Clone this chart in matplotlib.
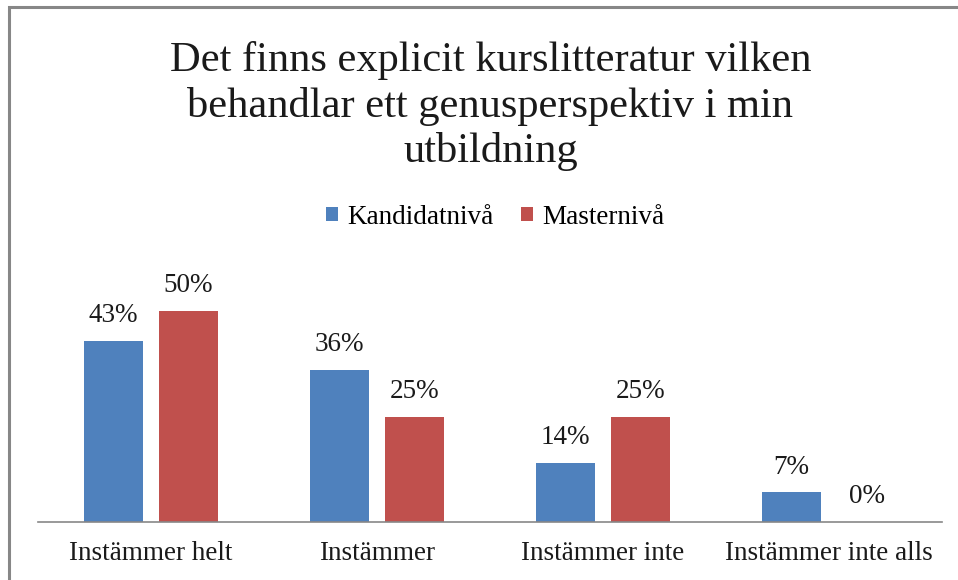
import matplotlib.pyplot as plt
import numpy as np
from matplotlib.patches import Rectangle

categories = ['Instämmer helt', 'Instämmer', 'Instämmer inte', 'Instämmer inte alls']
kandidat = [43, 36, 14, 7]
master = [50, 25, 25, 0]
series_names = ['Kandidatnivå', 'Masternivå']
title = 'Det finns explicit kurslitteratur vilken\nbehandlar ett genusperspektiv i min\nutbildning'

plt.rcParams['font.family'] = ['Liberation Serif', 'DejaVu Serif']

fig = plt.figure(figsize=(9.58, 5.8), dpi=100)
fig.patch.set_facecolor('white')

# chart border (right and bottom edges fall outside the image)
fig.patches.append(Rectangle((8.5 / 958, -0.05), 1.2, 1 - 6.5 / 580 + 0.05,
                             transform=fig.transFigure, fill=False,
                             edgecolor='#878787', linewidth=2.2))

ax = fig.add_axes([38 / 958, 58 / 580, 904 / 958, 253.2 / 580])
x = np.arange(len(categories))
w = 0.265
off = 0.166
b1 = ax.bar(x - off, kandidat, w, color='#4F81BD', label=series_names[0])
b2 = ax.bar(x + off, master, w, color='#C0504D', label=series_names[1])

for bars, vals in [(b1, kandidat), (b2, master)]:
    for r, v in zip(bars, vals):
        ax.text(r.get_x() + r.get_width() / 2, v + 3.0, '%d%%' % v,
                ha='center', va='bottom', fontsize=19.5, color='#1a1a1a')

ax.set_xlim(-0.5, 3.5)
ax.set_ylim(0, 60)
ax.set_xticks(x)
ax.set_xticklabels(categories, fontsize=19.5, color='#1a1a1a')
ax.tick_params(axis='x', length=0, pad=14)
ax.set_yticks([])
for s in ['top', 'right', 'left']:
    ax.spines[s].set_visible(False)
ax.spines['bottom'].set_color('#878787')
ax.spines['bottom'].set_linewidth(1.2)

fig.text(0.512, 1 - 106 / 580, title, ha='center', va='center',
         fontsize=30.6, linespacing=1.22, color='#1a1a1a')

fig.legend(handles=[b1, b2], loc='center', bbox_to_anchor=(495 / 958, 1 - 217 / 580),
           ncol=2, frameon=False, fontsize=19.5, handlelength=0.45, handleheight=0.45,
           handletextpad=0.35, columnspacing=1.0)

fig.savefig('out.png', dpi=100)
